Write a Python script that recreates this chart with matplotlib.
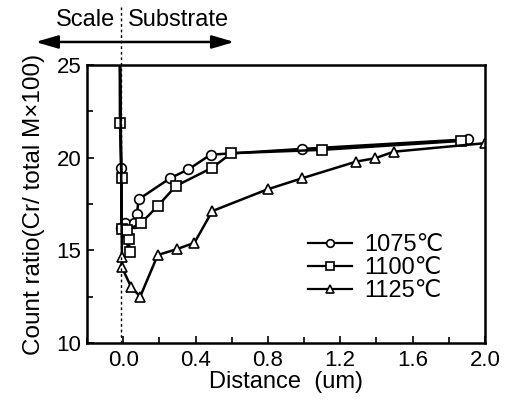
import matplotlib
matplotlib.use("Agg")
import matplotlib.pyplot as plt
from matplotlib.ticker import MultipleLocator

plt.rcParams["font.family"] = ["Liberation Sans", "DejaVu Sans"]

# (first point of each series starts above the frame)
x_1075 = [-0.02, -0.011, -0.010, 0.011, 0.057, 0.076, 0.085, 0.261, 0.361, 0.483, 0.987, 1.909]
y_1075 = [28.0, 19.43, 16.2, 16.46, 16.49, 16.96, 17.75, 18.9, 19.37, 20.16, 20.47, 20.99]

x_1100 = [-0.02, -0.018, -0.009, -0.009, 0.037, 0.030, 0.022, 0.098, 0.191, 0.291, 0.493, 0.598, 1.098, 1.867]
y_1100 = [28.0, 21.89, 18.92, 16.15, 14.93, 15.6, 16.1, 16.46, 17.39, 18.47, 19.46, 20.24, 20.42, 20.9]

x_1125 = [-0.02, -0.007, -0.007, 0.043, 0.094, 0.191, 0.296, 0.394, 0.493, 0.798, 0.99, 1.29, 1.394, 1.496, 2.0]
y_1125 = [28.0, 14.66, 14.08, 13.04, 12.5, 14.75, 15.06, 15.41, 17.12, 18.29, 18.89, 19.79, 19.97, 20.32, 20.78]

series = [
    ("1075\u2103", x_1075, y_1075, "o"),
    ("1100\u2103", x_1100, y_1100, "s"),
    ("1125\u2103", x_1125, y_1125, "^"),
]

fig = plt.figure(figsize=(5.12, 4.01), dpi=100)
ax = fig.add_axes([0.170, 0.1446, 0.777, 0.6934])

for label, xs, ys, m in series:
    ax.plot(xs, ys, color="black", linewidth=1.8, marker=m, markersize=7,
            markerfacecolor="white", markeredgecolor="black", markeredgewidth=1.2,
            label=label)

ax.set_xlim(-0.2, 2.0)
ax.set_ylim(10, 25)
ax.xaxis.set_minor_locator(MultipleLocator(0.2))
ax.yaxis.set_major_locator(MultipleLocator(5))
ax.yaxis.set_minor_locator(MultipleLocator(2.5))
ax.set_xticks([0.0, 0.4, 0.8, 1.2, 1.6, 2.0])
ax.set_xticklabels(["0.0", "0.4", "0.8", "1.2", "1.6", "2.0"])
ax.tick_params(which="both", direction="in", labelsize=16, width=1.2)
ax.tick_params(which="major", length=5)
ax.tick_params(which="minor", length=4)
ax.tick_params(axis="x", which="major", pad=5)
ax.tick_params(axis="y", which="major", pad=4)
for s in ax.spines.values():
    s.set_linewidth(1.8)

ax.set_xlabel("Distance  (um)", fontsize=17, labelpad=0)
ax.set_ylabel("Count ratio(Cr/ total M\u00d7100)", fontsize=17.5, labelpad=8)

# boundary between scale and substrate
ax.plot([-0.01, -0.01], [10, 28.1], color="black", linestyle=(0, (2, 2)),
        linewidth=1.0, clip_on=False)
ax.annotate("", xy=(-0.50, 26.24), xytext=(0.63, 26.24),
            arrowprops=dict(arrowstyle="<|-|>,head_length=0.75,head_width=0.22",
                            color="black", lw=1.8, mutation_scale=18),
            annotation_clip=False)
ax.text(-0.045, 27.4, "Scale", ha="right", va="center", fontsize=17)
ax.text(0.025, 27.4, "Substrate", ha="left", va="center", fontsize=17)

leg = ax.legend(loc="lower left", bbox_to_anchor=(0.555, 0.147), frameon=False,
                fontsize=17, handlelength=1.86, labelspacing=0.05,
                handletextpad=0.55, borderaxespad=0, borderpad=0)
for h in leg.legend_handles:
    h.set_markersize(5.5)
    h.set_linewidth(1.6)

fig.savefig("out.png", dpi=100)
